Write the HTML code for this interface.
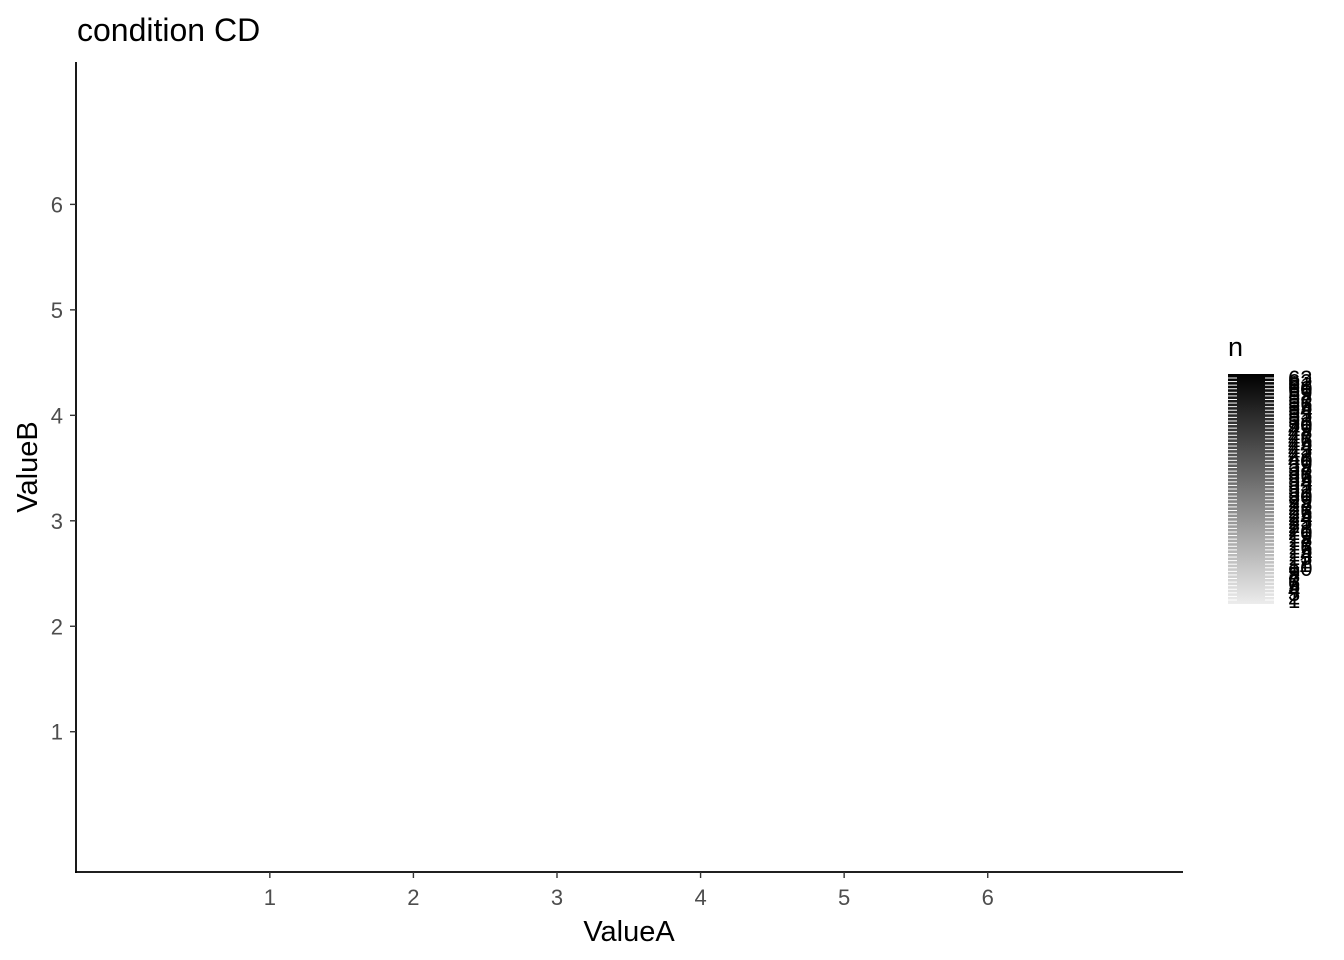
<!DOCTYPE html>
<html><head><meta charset="utf-8"><style>
body{margin:0;background:#fff;}
svg{display:block;font-family:"Liberation Sans",Arial,sans-serif;}
</style></head><body>
<svg id="chart" width="1344" height="960" xmlns="http://www.w3.org/2000/svg">
<defs><linearGradient id="grad" x1="0" y1="1" x2="0" y2="0"><stop offset="0" stop-color="#ececec"/><stop offset="1" stop-color="#000"/></linearGradient></defs>
<text x="77" y="41" font-size="32" fill="#000">condition CD</text>
<g id="axes"></g>
<text x="629" y="941" font-size="29" text-anchor="middle">ValueA</text>
<text transform="translate(37,467) rotate(-90)" font-size="29" text-anchor="middle">ValueB</text>
<g id="legend">
<text x="1228" y="356" font-size="27">n</text>
<rect x="1228" y="374" width="46" height="230" fill="url(#grad)"/>
<g id="cticks"></g>
</g>
</svg>
<script>
const xTicks=[1,2,3,4,5,6];
const yTicks=[1,2,3,4,5,6];
const xDomain=[-0.35,7.36];
const yDomain=[-0.33,7.35];
const legendValues=[];
for(let i=1;i<=63;i++)legendValues.push(i);
const legendDomain=[1,63];
const NS="http://www.w3.org/2000/svg";
const L=76,R=1183,T=62,B=872;
const sx=v=>L+(v-xDomain[0])/(xDomain[1]-xDomain[0])*(R-L);
const sy=v=>B-(v-yDomain[0])/(yDomain[1]-yDomain[0])*(B-T);
const ly=v=>600-(v-legendDomain[0])/(legendDomain[1]-legendDomain[0])*(600-378);
function mk(tag,attrs,parent){const e=document.createElementNS(NS,tag);for(const k in attrs)e.setAttribute(k,attrs[k]);parent.appendChild(e);return e;}
const ax=document.getElementById('axes');
let l=mk('line',{x1:L,y1:T,x2:L,y2:B+1,stroke:'#000','stroke-width':1.8},ax);


l=mk('line',{x1:L-1,y1:B,x2:R,y2:B,stroke:'#000','stroke-width':1.8},ax);


xTicks.forEach(v=>{const x=sx(v);
 const t=mk('line',{x1:x,y1:B,x2:x,y2:B+6,stroke:'#333','stroke-width':1.4},ax);
 
 
 const tx=mk('text',{x:x,y:B+33,'font-size':22,fill:'#4d4d4d','text-anchor':'middle'},ax);tx.textContent=v;
 
 
});
yTicks.forEach(v=>{const y=sy(v);
 const t=mk('line',{x1:L-6,y1:y,x2:L,y2:y,stroke:'#333','stroke-width':1.4},ax);
 
 
 const tx=mk('text',{x:L-13,y:y+8,'font-size':22,fill:'#4d4d4d','text-anchor':'end'},ax);tx.textContent=v;
 
 
});
const ct=document.getElementById('cticks');
legendValues.forEach((v,i)=>{const y=ly(v);
 [[1228,1237],[1265,1274]].forEach(p=>{const t=mk('line',{x1:p[0],y1:y,x2:p[1],y2:y,stroke:'#fff','stroke-width':1},ct);
  
  });
 const tx=mk('text',{x:1288,y:y+8,'font-size':22,fill:'#000'},ct);tx.textContent=v;
 
 
});
</script>
</body></html>
